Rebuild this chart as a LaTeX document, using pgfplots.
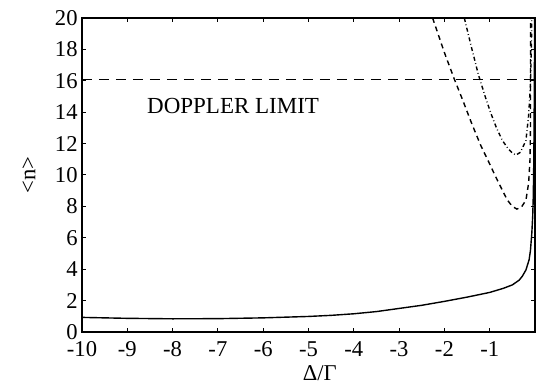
\documentclass[border=0pt]{standalone}
\usepackage{pgfplots}
\pgfplotsset{compat=1.18}
\usepackage{fontspec}
\setmainfont{Liberation Serif}
\begin{document}
\fontsize{11.3}{13}\selectfont
\begin{tikzpicture}
\useasboundingbox (-41pt,-26.5pt) rectangle (228pt,166pt);
\begin{axis}[
  at={(0,0)}, anchor=south west,
  scale only axis, width=226.5pt, height=157pt,
  xmin=-10, xmax=0, ymin=0, ymax=20,
  xtick={-10,-9,...,-1}, xticklabels={-10,-9,-8,-7,-6,-5,-4,-3,-2,-1},
  ytick={0,2,...,20},
  /pgf/number format/assume math mode=true,
  tick align=inside, major tick length=2pt,
  every tick/.style={black, line width=0.5pt},
  axis line style={line width=0.6pt},
  ticklabel style={font=\fontsize{11.3}{13}\selectfont},
  yticklabel style={inner sep=0pt, xshift=-2pt},
  xticklabel style={inner sep=0pt, yshift=-4.5pt},
  xlabel={Δ/Γ},
  ylabel={<n>},
  xlabel style={at={(axis description cs:0.525,0)}, anchor=center, yshift=-20.75pt, font=\fontsize{11.3}{13}\selectfont},
  ylabel style={at={(axis description cs:-0.117,0.5)}, anchor=center, font=\fontsize{11.3}{13}\selectfont},
  clip=true,
]
% Doppler limit
\addplot[black, line width=0.6pt, dash pattern=on 5pt off 3.5pt] coordinates {(-10,16.1) (0,16.1)};
% solid
\addplot[black, line width=0.7pt] coordinates {
(-10,0.93) (-9,0.87) (-8,0.84) (-7,0.85) (-6,0.9) (-5,0.99) (-4.5,1.06) (-4,1.16)
(-3.5,1.3) (-3,1.5) (-2.5,1.7) (-2,1.95) (-1.5,2.22) (-1,2.52) (-0.7,2.78) (-0.5,3.0)
(-0.35,3.3) (-0.28,3.55) (-0.2,3.95) (-0.13,4.6) (-0.1,5.2) (-0.07,6.3) (-0.05,7.4)
(-0.04,8.4) (-0.03,10) (-0.02,13) (-0.013,16.5) (-0.008,20)};
% dashed
\addplot[black, line width=0.7pt, dash pattern=on 2.5pt off 2pt] coordinates {
(-2.26,20) (-2.0,17.8) (-1.78,16.1) (-1.6,14.8) (-1.4,13.3) (-1.2,11.9) (-1.0,10.7)
(-0.87,9.9) (-0.75,9.2) (-0.61,8.4) (-0.5,8.0) (-0.4,7.83) (-0.3,7.95) (-0.2,8.4)
(-0.14,9.5) (-0.11,11) (-0.1,13) (-0.1,16) (-0.095,20)};
% dash-dot
\addplot[black, line width=0.7pt, dash pattern=on 2pt off 1.3pt on 0.4pt off 1.3pt] coordinates {
(-1.56,20) (-1.4,18.1) (-1.25,16.4) (-1.1,15.0) (-0.97,13.9) (-0.85,13.0) (-0.72,12.2)
(-0.6,11.7) (-0.5,11.4) (-0.42,11.27) (-0.32,11.45) (-0.2,12.2) (-0.14,13.8) (-0.1,15.8)
(-0.08,18) (-0.07,20)};
\node[anchor=west, inner sep=0pt, font=\fontsize{11.5}{13}\selectfont] at (axis cs:-8.57,14.4) {DOPPLER LIMIT};
\end{axis}
\end{tikzpicture}
\end{document}
